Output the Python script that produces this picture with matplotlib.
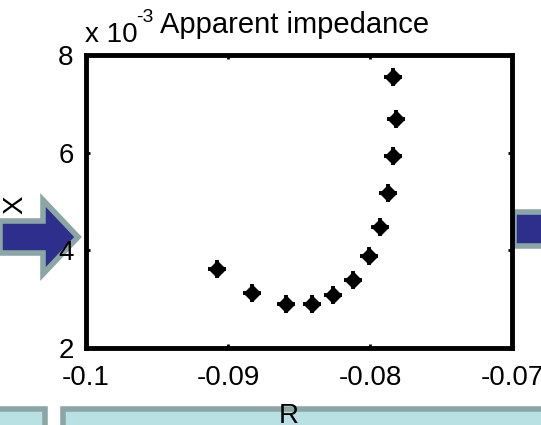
import matplotlib
matplotlib.use("Agg")
import matplotlib.pyplot as plt
from matplotlib.patches import Rectangle, Polygon

# Apparent impedance trajectory (R in ohm, X in units of 1e-3)
r_vals = [-0.0908, -0.0883, -0.0859, -0.0841, -0.0826, -0.0812,
          -0.0801, -0.0793, -0.0787, -0.0784, -0.0782, -0.0784]
x_vals = [3.61, 3.13, 2.91, 2.91, 3.09, 3.39,
          3.88, 4.47, 5.18, 5.93, 6.69, 7.54]

x_ticks = [-0.1, -0.09, -0.08, -0.07]
x_tick_labels = ["-0.1", "-0.09", "-0.08", "-0.07"]
y_ticks = [2, 4, 6, 8]
y_tick_labels = ["2", "4", "6", "8"]

plt.rcParams['font.family'] = ['Liberation Sans', 'DejaVu Sans']

W, H = 541, 425
fig = plt.figure(figsize=(W / 100, H / 100), dpi=100)

def fx(px):
    return px / W

def fy(py):
    return 1 - py / H

# slide decorations behind the chart
blue = "#2E2E8C"
edge = "#8CA6A6"
box_fill = "#B9E0E3"
left_arrow = [(0, 221), (43, 221), (43, 200), (78, 237), (43, 274), (43, 253), (0, 253)]
fig.patches.append(Polygon([(fx(a), fy(b)) for a, b in left_arrow], closed=True,
                           transform=fig.transFigure, facecolor=blue,
                           edgecolor=edge, linewidth=4, zorder=0))
fig.patches.append(Rectangle((fx(514), fy(246)), fx(40), 34 / H,
                             transform=fig.transFigure, facecolor=blue,
                             edgecolor=edge, linewidth=4, zorder=0))
fig.patches.append(Rectangle((fx(-10), fy(440)), fx(55), 31 / H,
                             transform=fig.transFigure, facecolor=box_fill,
                             edgecolor=edge, linewidth=4, zorder=0))
fig.patches.append(Rectangle((fx(63), fy(440)), fx(500), 31 / H,
                             transform=fig.transFigure, facecolor=box_fill,
                             edgecolor=edge, linewidth=4, zorder=0))

ax = fig.add_axes([fx(86), fy(348), fx(512) - fx(86), fy(55) - fy(348)])
ax.set_zorder(1)

ax.plot(r_vals, x_vals, linestyle='none', marker='D', markersize=8,
        color='black')
ax.plot(r_vals, x_vals, linestyle='none', marker='+', markersize=12.5,
        markeredgewidth=2.8, color='black')

ax.set_xlim(-0.1, -0.07)
ax.set_ylim(2, 8)
ax.set_xticks(x_ticks)
ax.set_xticklabels(x_tick_labels)
ax.set_yticks(y_ticks)
ax.set_yticklabels(y_tick_labels)
ax.tick_params(direction='in', length=3, width=2, labelsize=20,
               top=True, right=True)
ax.tick_params(axis='x', pad=12)
ax.tick_params(axis='y', pad=9)
for s in ax.spines.values():
    s.set_linewidth(3.5)

# titles and labels drawn as figure text
fig.text(fx(295), fy(33), "Apparent impedance", ha='center', va='baseline',
         fontsize=21)
fig.text(fx(85), fy(42), "x 10", ha='left', va='baseline', fontsize=20)
fig.text(fx(136), fy(22), "-3", ha='left', va='baseline', fontsize=14)
fig.text(fx(289), fy(423), "R", ha='center', va='baseline', fontsize=20)
fig.text(fx(15), fy(205), "X", ha='center', va='center', fontsize=20,
         rotation=90)

fig.savefig("out.png", dpi=100)
